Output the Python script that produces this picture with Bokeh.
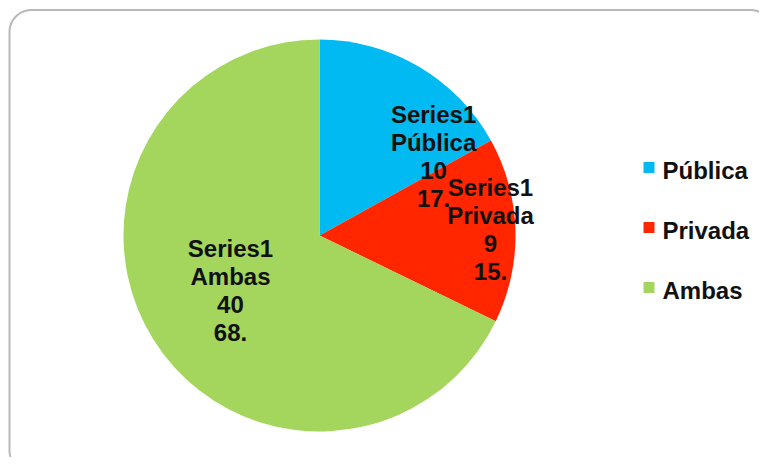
import numpy as np
from bokeh.plotting import figure
from bokeh.models import Range1d, ColumnDataSource
from bokeh.core.properties import value
from bokeh.embed import file_html
from bokeh.resources import INLINE

# ---- data ----
series_name = "Series1"
categories = ["Pública", "Privada", "Ambas"]
values = [10, 9, 40]
colors = ["#00BAF1", "#FF2600", "#A4D65E"]

# ---- layout / style ----
W, H = 759, 457
cx, cy, R = 319, 222, 196
label_radius = [0.708, 0.873, 0.534]
label_angle_shift_deg = [24.8, -0.5, 0.3]
FONT = "Liberation Sans"
FS = "24px"

p = figure(width=W, height=H, output_backend="svg", toolbar_location=None,
           x_range=Range1d(0, W), y_range=Range1d(0, H), min_border=0)
p.axis.visible = False
p.grid.visible = False
p.outline_line_color = None
p.background_fill_color = "white"
p.border_fill_color = "white"

# rounded border of the chart area
x0, x1, y0, y1, rr = 9, 772, -15, 447.5, 22
pts = []
for (ccx, ccy, a0) in [(x1 - rr, y1 - rr, 0), (x0 + rr, y1 - rr, 90),
                       (x0 + rr, y0 + rr, 180), (x1 - rr, y0 + rr, 270)]:
    a = np.deg2rad(np.linspace(a0, a0 + 90, 24))
    pts.extend(zip(ccx + rr * np.cos(a), ccy + rr * np.sin(a)))
pts.append(pts[0])
bx, by = zip(*pts)
p.line(list(bx), list(by), line_color="#B8B8B8", line_width=2)

# pie
total = sum(values)
fr = np.array(values) / total
cum = np.concatenate([[0], np.cumsum(fr)])
start = np.pi / 2 - cum[:-1] * 2 * np.pi
end = np.pi / 2 - cum[1:] * 2 * np.pi
src = ColumnDataSource(dict(start=start, end=end, color=colors, cat=categories))
p.wedge(x=cx, y=cy, radius=R, start_angle="start", end_angle="end",
        direction="clock", fill_color="color", line_color=None, source=src)

# data labels
mid = (cum[:-1] + cum[1:]) / 2 * 2 * np.pi + np.deg2rad(label_angle_shift_deg)
lx = cx + np.array(label_radius) * R * np.sin(mid)
ly = cy + np.array(label_radius) * R * np.cos(mid)
texts = [f"{series_name}\n{c}\n{v}\n{round(100 * v / total)}." for c, v in zip(categories, values)]
p.text(x=lx, y=ly, text=texts, text_align="center", text_baseline="middle",
       text_font=value(FONT), text_font_style="bold", text_font_size=FS,
       text_color="#111111", text_line_height=1.03)

# legend
sq_x, txt_x, leg_y0, leg_dy = 648.5, 662, 287, 60
ly_leg = [leg_y0 - i * leg_dy for i in range(len(categories))]
p.rect(x=[sq_x] * 3, y=[v + 3 for v in ly_leg], width=11, height=11,
       fill_color=colors, line_color=None)
p.text(x=[txt_x] * 3, y=ly_leg, text=categories, text_align="left",
       text_baseline="middle", text_font=value(FONT), text_font_style="bold",
       text_font_size=FS, text_color="#111111")

open("out.html", "w").write(file_html(p, INLINE))
